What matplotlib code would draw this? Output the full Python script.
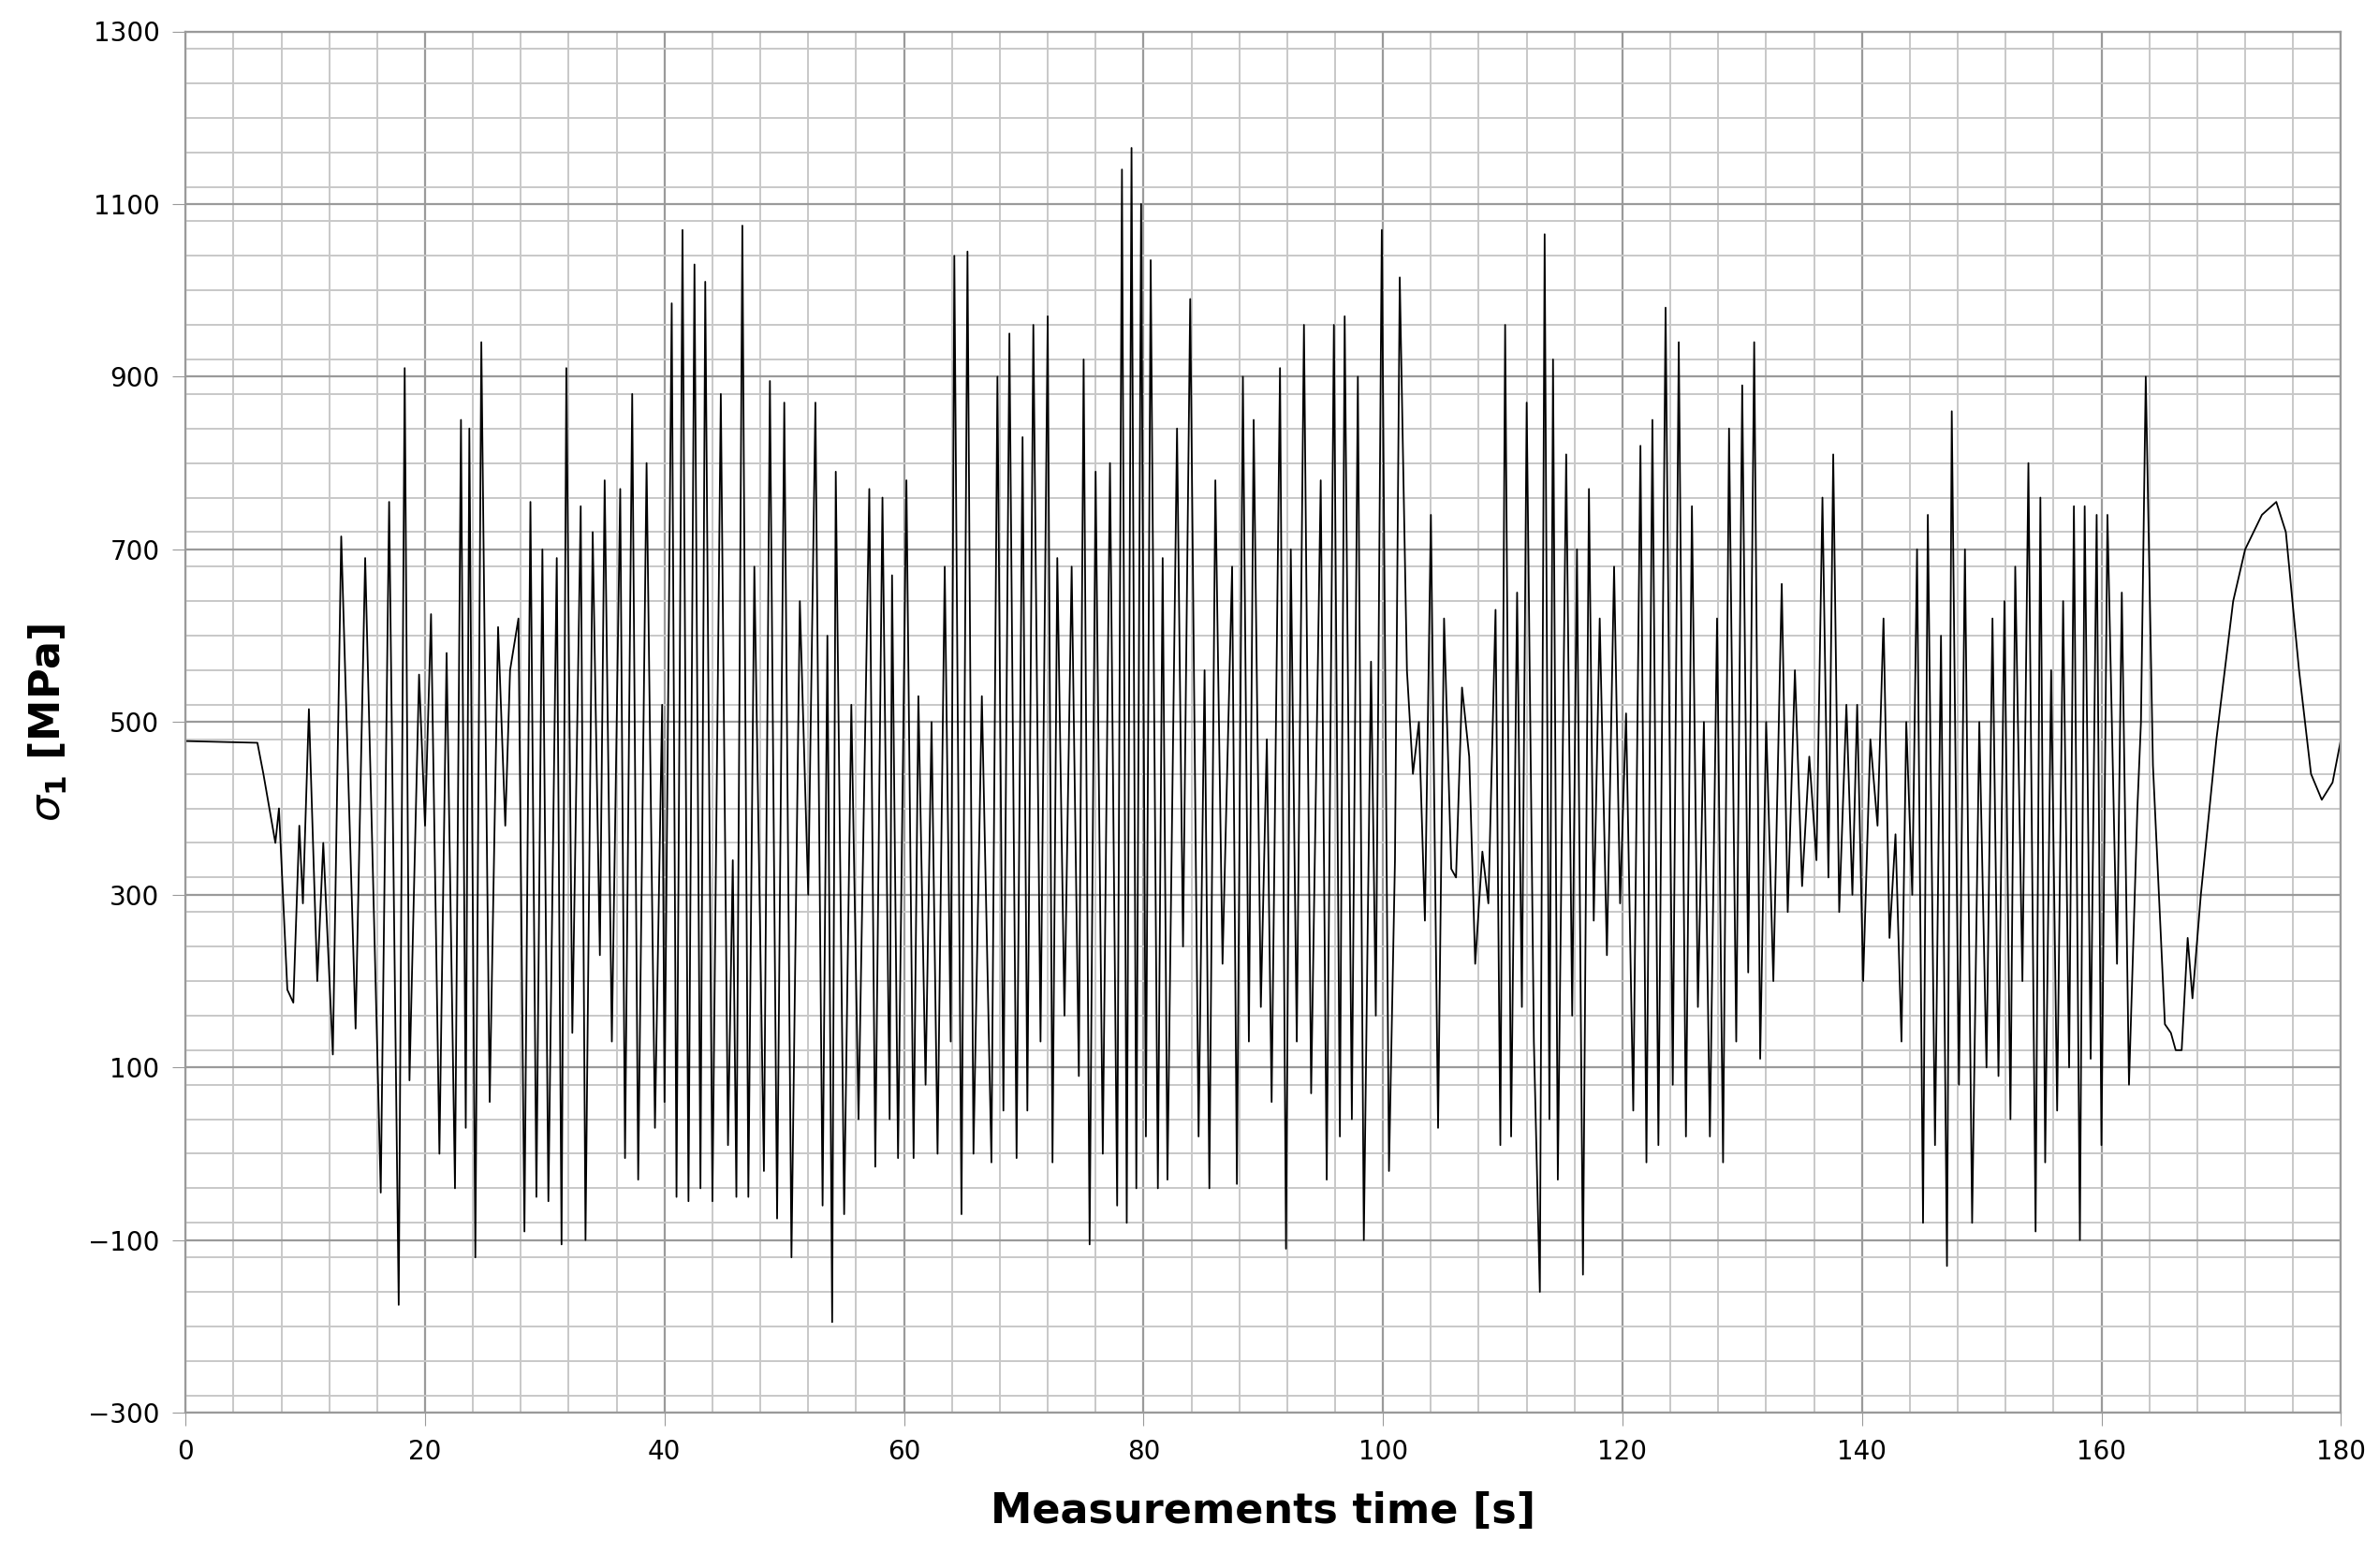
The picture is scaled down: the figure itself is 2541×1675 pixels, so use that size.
import matplotlib
matplotlib.use("Agg")
import matplotlib.pyplot as plt
from matplotlib.ticker import MultipleLocator

# Turning points of the stress record (time [s], sigma_1 [MPa])
time_s = [0, 6, 6.5, 7.5, 7.8, 8.5, 9, 9.5, 9.8, 10.3, 11, 11.5, 12.3, 13, 14.2, 15, 16.3, 17, 17.8,
          18.3, 18.7, 19.5, 20, 20.5, 21.2, 21.8, 22.5, 23, 23.4, 23.7, 24.2, 24.7, 25.4, 26.1, 26.7,
          27.1, 27.8, 28.3, 28.8, 29.3, 29.8, 30.3, 31, 31.4, 31.8, 32.3, 33, 33.4, 34, 34.6, 35, 35.6,
          36.3, 36.7, 37.3, 37.8, 38.5, 39.2, 39.8, 40, 40.6, 41, 41.5, 42, 42.5, 43, 43.4, 44, 44.7,
          45.3, 45.7, 46, 46.5, 47, 47.5, 48.3, 48.8, 49.4, 50, 50.6, 51.3, 52, 52.6, 53.2, 53.6, 54,
          54.3, 55, 55.6, 56.2, 57.1, 57.6, 58.2, 58.8, 59, 59.5, 60.2, 60.8, 61.2, 61.8, 62.3, 62.8,
          63.4, 63.9, 64.2, 64.8, 65.3, 65.8, 66.5, 67.3, 67.8, 68.3, 68.8, 69.4, 69.9, 70.3, 70.8,
          71.4, 72, 72.4, 72.8, 73.4, 74, 74.6, 75, 75.5, 76, 76.6, 77.2, 77.8, 78.2, 78.6, 79, 79.4,
          79.8, 80.2, 80.6, 81.2, 81.6, 82, 82.8, 83.3, 83.9, 84.6, 85.1, 85.5, 86, 86.6, 87.4, 87.8,
          88.3, 88.8, 89.2, 89.8, 90.3, 90.7, 91.4, 91.9, 92.3, 92.8, 93.4, 94, 94.8, 95.3, 95.9, 96.4,
          96.8, 97.4, 97.9, 98.4, 99, 99.4, 99.9, 100.5, 101, 101.4, 102, 102.5, 103, 103.5, 104,
          104.6, 105.1, 105.7, 106.1, 106.6, 107.2, 107.7, 108.3, 108.8, 109.4, 109.8, 110.2, 110.7,
          111.2, 111.6, 112, 112.6, 113.1, 113.5, 113.9, 114.2, 114.6, 115.3, 115.8, 116.2, 116.7,
          117.2, 117.6, 118.1, 118.7, 119.3, 119.8, 120.3, 120.9, 121.5, 122, 122.5, 123, 123.6,
          124.2, 124.7, 125.3, 125.8, 126.3, 126.8, 127.3, 127.9, 128.4, 128.9, 129.5, 130, 130.5,
          131, 131.5, 132, 132.6, 133.3, 133.8, 134.4, 135, 135.6, 136.2, 136.7, 137.2, 137.6, 138.1,
          138.7, 139.2, 139.6, 140.1, 140.7, 141.3, 141.8, 142.3, 142.8, 143.3, 143.7, 144.2, 144.6,
          145.1, 145.5, 146.1, 146.6, 147.1, 147.5, 148.1, 148.6, 149.2, 149.8, 150.4, 150.9, 151.4,
          151.9, 152.4, 152.8, 153.4, 153.9, 154.5, 154.9, 155.3, 155.8, 156.3, 156.8, 157.3, 157.7,
          158.2, 158.6, 159.1, 159.6, 160, 160.5, 161.3, 161.7, 162.3, 163, 163.3, 163.7, 164.3,
          165.3, 165.8, 166.2, 166.7, 167.2, 167.6, 168.3, 169.6, 171, 172, 173.4, 174.6, 175.4,
          176.5, 177.5, 178.4, 179.3, 180]
sigma1 = [478, 476, 440, 360, 400, 190, 175, 380, 290, 515, 200, 360, 115, 715, 145, 690, -45, 755, -175,
          910, 85, 555, 380, 625, 0, 580, -40, 850, 30, 840, -120, 940, 60, 610, 380,
          560, 620, -90, 755, -50, 700, -55, 690, -105, 910, 140, 750, -100, 720, 230, 780, 130,
          770, -5, 880, -30, 800, 30, 520, 60, 985, -50, 1070, -55, 1030, -40, 1010, -55, 880,
          10, 340, -50, 1075, -50, 680, -20, 895, -75, 870, -120, 640, 300, 870, -60, 600, -195,
          790, -70, 520, 40, 770, -15, 760, 40, 670, -5, 780, -5, 530, 80, 500, 0,
          680, 130, 1040, -70, 1045, 0, 530, -10, 900, 50, 950, -5, 830, 50, 960,
          130, 970, -10, 690, 160, 680, 90, 920, -105, 790, 0, 800, -60, 1140, -80, 1165, -40,
          1100, 20, 1035, -40, 690, -30, 840, 240, 990, 20, 560, -40, 780, 220, 680, -35,
          900, 130, 850, 170, 480, 60, 910, -110, 700, 130, 960, 70, 780, -30, 960, 20,
          970, 40, 900, -100, 570, 160, 1070, -20, 340, 1015, 560, 440, 500, 270, 740,
          30, 620, 330, 320, 540, 460, 220, 350, 290, 630, 10, 960, 20,
          650, 170, 870, 130, -160, 1065, 40, 920, -30, 810, 160, 700, -140,
          770, 270, 620, 230, 680, 290, 510, 50, 820, -10, 850, 10, 980,
          80, 940, 20, 750, 170, 500, 20, 620, -10, 840, 130, 890, 210,
          940, 110, 500, 200, 660, 280, 560, 310, 460, 340, 760, 320, 810, 280,
          520, 300, 520, 200, 480, 380, 620, 250, 370, 130, 500, 300, 700,
          -80, 740, 10, 600, -130, 860, 80, 700, -80, 500, 100, 620, 90,
          640, 40, 680, 200, 800, -90, 760, -10, 560, 50, 640, 100, 750,
          -100, 750, 110, 740, 10, 740, 220, 650, 80, 400, 500, 900, 450,
          150, 140, 120, 120, 250, 180, 300, 480, 640, 700, 740, 755, 720,
          560, 440, 410, 430, 480]

x_ticks = list(range(0, 181, 20))
y_ticks = list(range(-300, 1301, 200))

fig = plt.figure(figsize=(25.41, 16.75), dpi=100)
ax = fig.add_axes([0.078, 0.099, 0.906, 0.881])
ax.plot(time_s, sigma1, color="black", lw=1.3)

ax.set_xlim(0, 180)
ax.set_ylim(-300, 1300)
ax.set_xticks(x_ticks)
ax.set_yticks(y_ticks)
ax.set_yticklabels([str(v).replace("-", "\u2212") for v in y_ticks])
ax.xaxis.set_minor_locator(MultipleLocator(4))
ax.yaxis.set_minor_locator(MultipleLocator(40))
ax.grid(which="major", color="#9a9a9a", lw=1.6)
ax.grid(which="minor", color="#c8c8c8", lw=1.4)
ax.set_axisbelow(True)
for s in ax.spines.values():
    s.set_color("#9a9a9a")
    s.set_linewidth(1.6)
ax.tick_params(which="major", labelsize=20, length=10, color="#9a9a9a", pad=10)
ax.tick_params(which="minor", length=0)

ax.set_xlabel("Measurements time [s]", fontsize=32, fontweight="bold", labelpad=20)
ax.set_ylabel(r"$\sigma_\mathbf{1}$ [MPa]", fontsize=32, fontweight="bold", labelpad=14)

fig.savefig("out.png", dpi=100)
